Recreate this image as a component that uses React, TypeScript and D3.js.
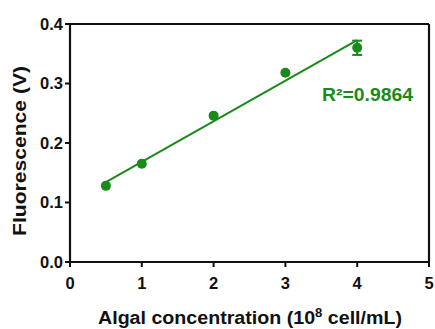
import React from "react";
import * as d3 from "d3";

const concentrations = [0.5, 1, 2, 3, 4];
const fluorescence = [0.128, 0.165, 0.246, 0.318, 0.36];
const errors = [0, 0, 0, 0, 0.012];
const xTicks = [0, 1, 2, 3, 4, 5];
const yTicks = [0.0, 0.1, 0.2, 0.3, 0.4];
const r2Label = "R²=0.9864";

const GREEN = "#1a8a1a";
const FONT = "'Liberation Sans', Arial, sans-serif";

export default function App() {
  const W = 435, H = 329;
  const x = d3.scaleLinear().domain([0, 5]).range([70, 429]);
  const y = d3.scaleLinear().domain([0, 0.4]).range([262, 24]);

  // least squares fit
  const mx = d3.mean(concentrations)!;
  const my = d3.mean(fluorescence)!;
  let sxy = 0, sxx = 0;
  concentrations.forEach((c, i) => {
    sxy += (c - mx) * (fluorescence[i] - my);
    sxx += (c - mx) ** 2;
  });
  const slope = sxy / sxx;
  const intercept = my - slope * mx;
  const x0 = d3.min(concentrations)!, x1 = d3.max(concentrations)!;
  const line = d3.line<number>().x((d) => x(d)).y((d) => y(intercept + slope * d));

  return (
    <svg width={W} height={H} style={{ position: "absolute", left: 0, top: 0 }} fontFamily={FONT}>
      <rect width={W} height={H} fill="#fff" />
      {/* frame */}
      <line x1={x(0)} x2={x(5)} y1={y(0.4)} y2={y(0.4)} stroke="#111" strokeWidth={2.2} />
      <line x1={x(5)} x2={x(5)} y1={y(0.4)} y2={y(0)} stroke="#111" strokeWidth={2.2} />
      <line x1={x(0)} x2={x(5)} y1={y(0)} y2={y(0)} stroke="#111" strokeWidth={2.2} />
      <line x1={x(0)} x2={x(0)} y1={y(0.4)} y2={y(0)} stroke="#111" strokeWidth={2.2} />
      {/* y ticks */}
      {yTicks.map((t) => (
        <g key={"y" + t}>
          <line x1={x(0) - 5} x2={x(0)} y1={y(t)} y2={y(t)} stroke="#111" strokeWidth={2} />
          <text x={x(0) - 7} y={y(t)} dy="0.36em" textAnchor="end" fontSize={16.5} fontWeight="bold" fill="#111">
            {t.toFixed(1)}
          </text>
        </g>
      ))}
      {/* x ticks */}
      {xTicks.map((t) => (
        <g key={"x" + t}>
          <line x1={x(t)} x2={x(t)} y1={y(0)} y2={y(0) + 5} stroke="#111" strokeWidth={2} />
          <text x={x(t)} y={y(0) + 27} textAnchor="middle" fontSize={16.5} fontWeight="bold" fill="#111">
            {t}
          </text>
        </g>
      ))}
      {/* fit line */}
      <path d={line([x0, x1])!} stroke={GREEN} strokeWidth={2} fill="none" />
      {/* error bars */}
      {concentrations.map((c, i) =>
        errors[i] > 0 ? (
          <g key={"e" + i} stroke={GREEN} strokeWidth={2}>
            <line x1={x(c)} x2={x(c)} y1={y(fluorescence[i] - errors[i])} y2={y(fluorescence[i] + errors[i])} />
            <line x1={x(c) - 5} x2={x(c) + 5} y1={y(fluorescence[i] - errors[i])} y2={y(fluorescence[i] - errors[i])} />
            <line x1={x(c) - 5} x2={x(c) + 5} y1={y(fluorescence[i] + errors[i])} y2={y(fluorescence[i] + errors[i])} />
          </g>
        ) : null
      )}
      {/* points */}
      {concentrations.map((c, i) => (
        <circle key={"p" + i} cx={x(c)} cy={y(fluorescence[i])} r={5} fill={GREEN} />
      ))}
      <text x={322} y={101} fontSize={18} fontWeight="bold" fill={GREEN} textLength={91} lengthAdjust="spacingAndGlyphs">
        {r2Label}
      </text>
      {/* axis titles */}
      <text
        transform={`translate(26,${151}) rotate(-90)`}
        textAnchor="middle"
        fontSize={18}
        fontWeight="bold"
        fill="#111"
        textLength={170}
        lengthAdjust="spacingAndGlyphs"
      >
        Fluorescence (V)
      </text>
      <text x={98} y={324} fontSize={18} fontWeight="bold" fill="#111" textLength={304} lengthAdjust="spacingAndGlyphs">
        Algal concentration (10
        <tspan dy={-7} fontSize={12}>8</tspan>
        <tspan dy={7}> cell/mL)</tspan>
      </text>
    </svg>
  );
}
